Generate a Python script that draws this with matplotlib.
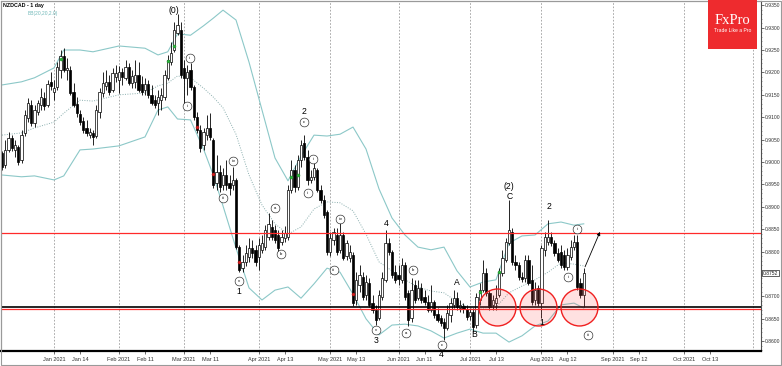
import matplotlib
matplotlib.use("Agg")
import matplotlib.pyplot as plt
import matplotlib.transforms as mtransforms
from matplotlib.patches import Rectangle
from matplotlib.ticker import MultipleLocator
import numpy as np

plt.rcParams['font.family'] = ['Liberation Sans', 'DejaVu Sans']

# ---------------- data ----------------
symbol_title = "NZDCAD - 1 day"
indicator_title = "BB(20,20,2.0)"

opens = [0.9020, 0.8993, 0.9027, 0.9054, 0.9027, 0.9033, 0.9004, 0.9065, 0.9098, 0.9127,
         0.9087, 0.9112, 0.9127, 0.9143, 0.9127, 0.9179, 0.9156, 0.9167, 0.9205, 0.9237,
         0.9205, 0.9205, 0.9156, 0.9129, 0.9107, 0.9092, 0.9076, 0.9060, 0.9065, 0.9058,
         0.9112, 0.9154, 0.9170, 0.9179, 0.9161, 0.9190, 0.9183, 0.9201, 0.9188, 0.9212,
         0.9176, 0.9179, 0.9194, 0.9174, 0.9161, 0.9174, 0.9150, 0.9138, 0.9132, 0.9138,
         0.9145, 0.9188, 0.9223, 0.9250, 0.9288, 0.9295, 0.9210, 0.9188, 0.9205, 0.9167,
         0.9100, 0.9071, 0.9038, 0.9060, 0.9076, 0.9049, 0.8953, 0.8978, 0.8949, 0.8971,
         0.8953, 0.8949, 0.8960, 0.8810, 0.8763, 0.8777, 0.8788, 0.8808, 0.8804, 0.8788,
         0.8804, 0.8810, 0.8833, 0.8855, 0.8848, 0.8837, 0.8821, 0.8830, 0.8833, 0.8937,
         0.8982, 0.8944, 0.9004, 0.9042, 0.9011, 0.8960, 0.8967, 0.8982, 0.8937, 0.8915,
         0.8888, 0.8799, 0.8826, 0.8837, 0.8804, 0.8837, 0.8790, 0.8786, 0.8792, 0.8692,
         0.8725, 0.8743, 0.8703, 0.8730, 0.8685, 0.8670, 0.8652, 0.8699, 0.8737, 0.8819,
         0.8799, 0.8754, 0.8748, 0.8737, 0.8770, 0.8708, 0.8652, 0.8725, 0.8696, 0.8719,
         0.8699, 0.8688, 0.8670, 0.8688, 0.8661, 0.8652, 0.8643, 0.8629, 0.8658, 0.8681,
         0.8696, 0.8674, 0.8679, 0.8672, 0.8656, 0.8665, 0.8636, 0.8692, 0.8714, 0.8752,
         0.8708, 0.8681, 0.8685, 0.8703, 0.8752, 0.8781, 0.8819, 0.8844, 0.8777, 0.8770,
         0.8743, 0.8741, 0.8781, 0.8737, 0.8692, 0.8719, 0.8685, 0.8804, 0.8821, 0.8833,
         0.8819, 0.8797, 0.8799, 0.8792, 0.8766, 0.8788, 0.8810, 0.8821, 0.8730, 0.8703]

highs = [0.9025, 0.9049, 0.9067, 0.9060, 0.9049, 0.9038, 0.9071, 0.9116, 0.9143, 0.9138,
         0.9127, 0.9138, 0.9165, 0.9156, 0.9183, 0.9201, 0.9183, 0.9223, 0.9250, 0.9254,
         0.9232, 0.9214, 0.9176, 0.9145, 0.9116, 0.9100, 0.9094, 0.9076, 0.9071, 0.9127,
         0.9165, 0.9201, 0.9205, 0.9194, 0.9210, 0.9217, 0.9214, 0.9210, 0.9228, 0.9221,
         0.9205, 0.9228, 0.9223, 0.9192, 0.9188, 0.9183, 0.9172, 0.9150, 0.9161, 0.9165,
         0.9205, 0.9239, 0.9268, 0.9313, 0.9330, 0.9313, 0.9228, 0.9217, 0.9221, 0.9172,
         0.9112, 0.9083, 0.9076, 0.9105, 0.9109, 0.9054, 0.9016, 0.8993, 0.8987, 0.9004,
         0.8971, 0.8989, 0.8964, 0.8815, 0.8792, 0.8815, 0.8830, 0.8826, 0.8815, 0.8830,
         0.8837, 0.8859, 0.8886, 0.8871, 0.8859, 0.8848, 0.8848, 0.8857, 0.8949, 0.9004,
         0.8993, 0.9016, 0.9049, 0.9060, 0.9027, 0.8982, 0.8998, 0.8987, 0.8949, 0.8926,
         0.8893, 0.8844, 0.8853, 0.8853, 0.8866, 0.8844, 0.8826, 0.8815, 0.8799, 0.8754,
         0.8770, 0.8754, 0.8748, 0.8741, 0.8703, 0.8681, 0.8714, 0.8754, 0.8848, 0.8830,
         0.8804, 0.8770, 0.8770, 0.8786, 0.8777, 0.8714, 0.8741, 0.8737, 0.8737, 0.8730,
         0.8714, 0.8703, 0.8725, 0.8692, 0.8674, 0.8658, 0.8652, 0.8681, 0.8696, 0.8714,
         0.8710, 0.8692, 0.8685, 0.8681, 0.8674, 0.8674, 0.8708, 0.8730, 0.8781, 0.8763,
         0.8714, 0.8703, 0.8725, 0.8763, 0.8804, 0.8830, 0.8915, 0.8853, 0.8792, 0.8777,
         0.8754, 0.8792, 0.8792, 0.8770, 0.8732, 0.8725, 0.8815, 0.8844, 0.8871, 0.8844,
         0.8826, 0.8808, 0.8815, 0.8804, 0.8808, 0.8826, 0.8837, 0.8837, 0.8741, 0.8763]

lows = [0.8982, 0.8987, 0.9022, 0.9025, 0.9011, 0.8993, 0.8998, 0.9058, 0.9089, 0.9080,
        0.9078, 0.9105, 0.9116, 0.9116, 0.9123, 0.9161, 0.9138, 0.9161, 0.9188, 0.9201,
        0.9183, 0.9150, 0.9123, 0.9100, 0.9083, 0.9065, 0.9058, 0.9054, 0.9038, 0.9054,
        0.9098, 0.9145, 0.9161, 0.9150, 0.9156, 0.9179, 0.9154, 0.9172, 0.9183, 0.9172,
        0.9165, 0.9165, 0.9156, 0.9150, 0.9150, 0.9143, 0.9127, 0.9121, 0.9105, 0.9116,
        0.9138, 0.9183, 0.9217, 0.9246, 0.9283, 0.9188, 0.9127, 0.9150, 0.9161, 0.9094,
        0.9065, 0.9022, 0.9027, 0.9049, 0.9049, 0.8942, 0.8937, 0.8933, 0.8937, 0.8937,
        0.8926, 0.8937, 0.8806, 0.8754, 0.8754, 0.8768, 0.8777, 0.8786, 0.8768, 0.8759,
        0.8797, 0.8804, 0.8826, 0.8826, 0.8819, 0.8799, 0.8815, 0.8821, 0.8826, 0.8931,
        0.8933, 0.8937, 0.8989, 0.9004, 0.8949, 0.8953, 0.8960, 0.8933, 0.8908, 0.8875,
        0.8792, 0.8790, 0.8815, 0.8792, 0.8797, 0.8781, 0.8781, 0.8777, 0.8679, 0.8681,
        0.8710, 0.8692, 0.8692, 0.8676, 0.8663, 0.8636, 0.8647, 0.8692, 0.8732, 0.8792,
        0.8741, 0.8730, 0.8725, 0.8730, 0.8692, 0.8634, 0.8643, 0.8685, 0.8692, 0.8685,
        0.8681, 0.8665, 0.8665, 0.8652, 0.8643, 0.8634, 0.8603, 0.8625, 0.8643, 0.8674,
        0.8670, 0.8665, 0.8663, 0.8647, 0.8647, 0.8621, 0.8629, 0.8681, 0.8710, 0.8701,
        0.8670, 0.8670, 0.8670, 0.8699, 0.8745, 0.8777, 0.8815, 0.8770, 0.8759, 0.8737,
        0.8732, 0.8732, 0.8725, 0.8681, 0.8681, 0.8679, 0.8652, 0.8790, 0.8815, 0.8812,
        0.8790, 0.8777, 0.8763, 0.8759, 0.8759, 0.8781, 0.8804, 0.8714, 0.8696, 0.8676]

closes = [0.8989, 0.9027, 0.9054, 0.9031, 0.9038, 0.9000, 0.9060, 0.9105, 0.9132, 0.9087,
          0.9116, 0.9132, 0.9145, 0.9125, 0.9174, 0.9170, 0.9165, 0.9212, 0.9237, 0.9205,
          0.9210, 0.9154, 0.9127, 0.9109, 0.9089, 0.9071, 0.9065, 0.9067, 0.9056, 0.9116,
          0.9156, 0.9176, 0.9179, 0.9156, 0.9199, 0.9199, 0.9201, 0.9190, 0.9212, 0.9176,
          0.9192, 0.9194, 0.9161, 0.9156, 0.9174, 0.9150, 0.9132, 0.9127, 0.9145, 0.9150,
          0.9194, 0.9228, 0.9243, 0.9295, 0.9306, 0.9194, 0.9188, 0.9201, 0.9167, 0.9100,
          0.9071, 0.9031, 0.9067, 0.9076, 0.9056, 0.8949, 0.8978, 0.8944, 0.8971, 0.8949,
          0.8942, 0.8960, 0.8810, 0.8759, 0.8777, 0.8797, 0.8808, 0.8797, 0.8777, 0.8815,
          0.8819, 0.8848, 0.8862, 0.8833, 0.8826, 0.8808, 0.8833, 0.8842, 0.8937, 0.8982,
          0.8944, 0.9004, 0.9038, 0.9011, 0.8960, 0.8967, 0.8987, 0.8937, 0.8915, 0.8882,
          0.8799, 0.8830, 0.8844, 0.8799, 0.8837, 0.8786, 0.8819, 0.8799, 0.8685, 0.8737,
          0.8748, 0.8699, 0.8732, 0.8681, 0.8670, 0.8647, 0.8703, 0.8741, 0.8819, 0.8799,
          0.8748, 0.8737, 0.8739, 0.8770, 0.8699, 0.8647, 0.8714, 0.8692, 0.8719, 0.8692,
          0.8688, 0.8670, 0.8688, 0.8658, 0.8647, 0.8641, 0.8629, 0.8663, 0.8685, 0.8696,
          0.8676, 0.8681, 0.8672, 0.8654, 0.8665, 0.8632, 0.8699, 0.8714, 0.8752, 0.8708,
          0.8676, 0.8692, 0.8696, 0.8752, 0.8786, 0.8821, 0.8848, 0.8777, 0.8770, 0.8743,
          0.8739, 0.8781, 0.8730, 0.8688, 0.8714, 0.8685, 0.8808, 0.8833, 0.8833, 0.8819,
          0.8797, 0.8781, 0.8770, 0.8766, 0.8792, 0.8810, 0.8821, 0.8721, 0.8703, 0.8752]

# Bollinger band values at selected bars
band_idx = [0, 6, 10, 16, 19, 24, 28, 36, 44, 48, 51, 54, 58, 62, 65, 68, 72, 76, 80, 84,
            88, 92, 96, 100, 104, 108, 112, 116, 120, 124, 128, 132, 136, 140, 144, 148,
            152, 156, 160, 164, 168, 172, 176, 179]
band_upper = [0.9172, 0.9179, 0.9188, 0.9210, 0.9250, 0.9250, 0.9246, 0.9259, 0.9254, 0.9239,
              0.9246, 0.9286, 0.9283, 0.9304, 0.9321, 0.9339, 0.9317, 0.9223, 0.9116, 0.9009,
              0.8958, 0.9013, 0.9060, 0.9058, 0.9062, 0.9078, 0.9029, 0.8940, 0.8875, 0.8837,
              0.8810, 0.8804, 0.8810, 0.8757, 0.8721, 0.8732, 0.8737, 0.8819, 0.8835, 0.8837,
              0.8862, 0.8866, 0.8859, 0.8862]
band_mid = [0.9060, 0.9065, 0.9076, 0.9089, 0.9109, 0.9138, 0.9136, 0.9150, 0.9154, 0.9170,
            0.9176, 0.9192, 0.9188, 0.9165, 0.9145, 0.9121, 0.9062, 0.8971, 0.8904, 0.8862,
            0.8839, 0.8855, 0.8895, 0.8911, 0.8909, 0.8891, 0.8839, 0.8777, 0.8757, 0.8737,
            0.8721, 0.8712, 0.8708, 0.8688, 0.8674, 0.8674, 0.8676, 0.8708, 0.8723, 0.8737,
            0.8754, 0.8775, 0.8772, 0.8768]
band_lower = [0.8971, 0.8967, 0.8969, 0.8960, 0.8969, 0.9027, 0.9029, 0.9036, 0.9056, 0.9116,
              0.9123, 0.9096, 0.9094, 0.9029, 0.8971, 0.8902, 0.8808, 0.8719, 0.8692, 0.8714,
              0.8721, 0.8696, 0.8728, 0.8763, 0.8754, 0.8705, 0.8650, 0.8614, 0.8636, 0.8638,
              0.8634, 0.8623, 0.8607, 0.8618, 0.8627, 0.8618, 0.8618, 0.8598, 0.8612, 0.8634,
              0.8645, 0.8681, 0.8685, 0.8674]

price_ticks = [0.9350, 0.9300, 0.9250, 0.9200, 0.9150, 0.9100, 0.9050, 0.9000,
               0.8950, 0.8900, 0.8850, 0.8800, 0.8700, 0.8650, 0.8600]
date_tick_idx = [16, 24, 36, 44, 56, 64, 79, 87, 101, 109, 122, 130, 144, 152,
                 166, 174, 188, 196, 210, 218]
date_tick_labels = ["Jan 2021", "Jan 14", "Feb 2021", "Feb 11", "Mar 2021", "Mar 11",
                    "Apr 2021", "Apr 13", "May 2021", "May 13", "Jun 2021", "Jun 11",
                    "Jul 2021", "Jul 13", "Aug 2021", "Aug 12", "Sep 2021", "Sep 12",
                    "Oct 2021", "Oct 13"]
month_grid_idx = [16, 36, 56, 79, 101, 122, 144, 166, 188, 210, 231]

resistance_level = 0.8841
support_level = 0.8677
last_price = 0.8752

circle_idx = [152.3, 164.9, 177.5]
circle_price = [0.8676, 0.8676, 0.8676]

green_idx = [18, 51, 53, 89, 91, 147, 153]
green_price = [0.9230, 0.9226, 0.9259, 0.8967, 0.8971, 0.8710, 0.8754]
red_idx = [60, 65, 73, 108]
red_price = [0.9078, 0.8973, 0.8777, 0.8705]

wave_plain = [("(0)", 52.9, 0.9339), ("2", 92.9, 0.9112), ("1", 73.0, 0.8712),
              ("3", 115.0, 0.8601), ("4", 118.2, 0.8863), ("4", 135.3, 0.8571),
              ("A", 140.1, 0.8731), ("B", 145.2, 0.8616), ("(2)", 156.1, 0.8946),
              ("C", 156.1, 0.8923), ("1", 166.2, 0.8641), ("2", 168.2, 0.8900)]
wave_circled = [("ii", 57.8, 0.9232), ("i", 56.9, 0.9125), ("iii", 68.0, 0.8920),
                ("iv", 71.0, 0.9003), ("v", 73.0, 0.8734), ("a", 84.0, 0.8897),
                ("b", 85.8, 0.8795), ("c", 92.9, 0.9089), ("ii", 95.8, 0.9006),
                ("i", 94.0, 0.8930), ("iv", 104.0, 0.8873), ("iii", 102.0, 0.8760),
                ("v", 115.0, 0.8625), ("b", 126.4, 0.8760), ("a", 124.2, 0.8619),
                ("c", 135.3, 0.8591), ("ii", 177.0, 0.8850), ("i", 174.2, 0.8743),
                ("iii", 180.2, 0.8614)]

arrow_start = (179.4, 0.8766)
arrow_end = (184.0, 0.8844)

# ---------------- figure ----------------
W, H = 782, 366
fig = plt.figure(figsize=(W / 100, H / 100), dpi=100)
fig.patch.set_facecolor('white')
ax = fig.add_axes([1 / W, 15 / H, 760 / W, 350 / H])
ax.set_facecolor('white')
ax.set_xlim(-0.31, 233.54)
ax.set_ylim(0.85781, 0.93594)

for g in month_grid_idx:
    ax.axvline(g, color='#9c9c9c', lw=0.6, ls=(0, (2, 2)), zorder=0)

# Bollinger bands
ax.plot(band_idx, band_upper, color='#8cc8c8', lw=0.8, zorder=1)
ax.plot(band_idx, band_lower, color='#8cc8c8', lw=0.8, zorder=1)
ax.plot(band_idx, band_mid, color='#8aaeae', lw=0.7, ls=(0, (1, 1.5)), zorder=1)

# candles
x = np.arange(len(closes))
o = np.array(opens)
c = np.array(closes)
hi = np.array(highs)
lo = np.array(lows)
up = c >= o
bottom = np.minimum(o, c)
height = np.maximum(np.abs(c - o), 0.00004)
ax.vlines(x, lo, hi, colors='black', lw=0.6, zorder=2)
ax.bar(x[up], height[up], bottom=bottom[up], width=0.72, facecolor='white',
       edgecolor='black', linewidth=0.5, zorder=3)
ax.bar(x[~up], height[~up], bottom=bottom[~up], width=0.72, facecolor='black',
       edgecolor='black', linewidth=0.5, zorder=3)

# signal markers
ax.plot(green_idx, green_price, 'o', color='#2db43c', ms=2.2, mec='#1d8a2a', mew=0.3, zorder=4)
ax.plot(red_idx, red_price, 'o', color='#d42020', ms=2.2, mec='#a01010', mew=0.3, zorder=4)

# horizontal levels
ax.axhline(resistance_level, color='#ff2a2a', lw=0.9, zorder=4)
ax.axhline(support_level, color='black', lw=1.2, zorder=4)
ax.axhline(support_level - 0.00045, color='#ff2a2a', lw=0.9, zorder=4)

# circles
ax.scatter(circle_idx, circle_price, s=26.6 ** 2, facecolor=(1.0, 0.35, 0.35, 0.18),
           edgecolor='#f02020', linewidth=1.0, zorder=5)

# arrow
ax.annotate("", xy=arrow_end, xytext=arrow_start,
            arrowprops=dict(arrowstyle='-|>', color='black', lw=0.6,
                            mutation_scale=5, shrinkA=0, shrinkB=0), zorder=6)

# wave labels
for txt, xi, yp in wave_plain:
    ax.text(xi, yp, txt, fontsize=6.2, ha='center', va='center', color='black',
            zorder=7, clip_on=False)
for txt, xi, yp in wave_circled:
    ax.scatter([xi], [yp], s=40, facecolor='white', edgecolor='#222222', linewidth=0.45,
               zorder=7, clip_on=False)
    ax.text(xi, yp, txt, fontsize=3.1, ha='center', va='center', color='black',
            zorder=8, clip_on=False)

# axes styling
for side in ['left', 'top']:
    ax.spines[side].set_color('#808080')
    ax.spines[side].set_linewidth(0.8)
ax.spines['right'].set_color('#505050')
ax.spines['right'].set_linewidth(0.8)
ax.spines['bottom'].set_color('black')
ax.spines['bottom'].set_linewidth(1.6)

ax.yaxis.tick_right()
ax.set_yticks(price_ticks)
ax.set_yticklabels([f"{p:.4f}" for p in price_ticks])
ax.yaxis.set_minor_locator(MultipleLocator(0.001))
ax.tick_params(axis='y', which='major', length=1.8, width=0.5, pad=0.6, labelsize=3.6,
               colors='#333333')
ax.tick_params(axis='y', which='minor', length=1, width=0.4, color='#555555')

ax.set_xticks(date_tick_idx)
ax.set_xticklabels(date_tick_labels)
ax.tick_params(axis='x', which='major', length=2.5, width=0.5, pad=1.6, labelsize=4.0,
               colors='#333333')

# current price box
trans = mtransforms.blended_transform_factory(ax.transAxes, ax.transData)
ax.text(1.0025, last_price, f"{last_price:.4f}", transform=trans, fontsize=3.6,
        ha='left', va='center', color='#222222', zorder=9, clip_on=False,
        bbox=dict(boxstyle='square,pad=0.15', fc='white', ec='#222222', lw=0.5))

# titles
fig.text(3 / W, 1 - 6 / H, symbol_title, fontsize=3.8, fontweight='bold', va='center',
         ha='left', color='black')
fig.text(28 / W, 1 - 13 / H, indicator_title, fontsize=3.5, va='center', ha='left',
         color='#6fb8b8')

# logo
fig.patches.append(Rectangle((708 / W, 1 - 49 / H), 49 / W, 49 / H, transform=fig.transFigure,
                             facecolor='#ee2b2e', edgecolor='none', zorder=5))
fig.text(732.5 / W, 1 - 21 / H, "FxPro", fontsize=10.5, color='white', ha='center',
         va='center', family=['Liberation Serif', 'DejaVu Serif'], zorder=6)
fig.text(732.5 / W, 1 - 31 / H, "Trade Like a Pro", fontsize=3.6, color='white',
         ha='center', va='center', zorder=6)

# outer frame
fig.patches.append(Rectangle((0.5 / W, 1.5 / H), 780 / W, 364 / H, transform=fig.transFigure,
                             fill=False, edgecolor='#9a9a9a', linewidth=0.8, zorder=4))

fig.savefig("out.png", dpi=100)
